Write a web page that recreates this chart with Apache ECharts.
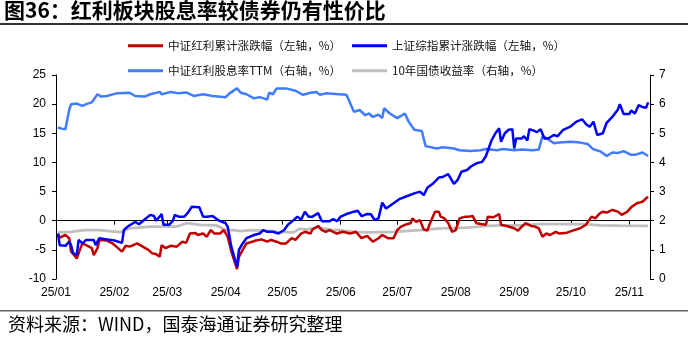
<!DOCTYPE html>
<html><head><meta charset="utf-8">
<script src="https://cdn.jsdelivr.net/npm/echarts@6/dist/echarts.min.js"></script>
<style>html,body{margin:0;padding:0;background:#fff}#c{width:688px;height:342px}</style>
</head><body><div id="c"></div>
<script>
const titleText = '图36：红利板块股息率较债券仍有性价比';
const sourceText = '资料来源：WIND，国泰海通证券研究整理';
const seriesNames = ['中证红利累计涨跌幅（左轴，%）','上证综指累计涨跌幅（左轴，%）','中证红利股息率TTM（右轴，%）','10年国债收益率（右轴，%）'];
const monthStarts = ['2025-01-01','2025-02-01','2025-03-01','2025-04-01','2025-05-01','2025-06-01','2025-07-01','2025-08-01','2025-09-01','2025-10-01','2025-11-01'];
const monthLabels = ['25/01','25/02','25/03','25/04','25/05','25/06','25/07','25/08','25/09','25/10','25/11'];
const axisStart = '2025-01-01', axisEnd = '2025-11-12';
const leftTicks = {min:-10, max:25, interval:5};
const rightTicks = {min:0, max:7, interval:1};

// 中证红利累计涨跌幅 (左轴)
const redData = [
['01-02',-2.3],['01-03',-2.9],['01-06',-2.45],['01-08',-3.0],['01-09',-5.3],['01-11',-6.05],['01-12',-6.5],['01-14',-4.7],['01-15',-3.9],['01-17',-4.2],
['01-20',-4.7],['01-21',-5.9],['01-23',-4.7],['01-24',-3.3],['01-28',-3.4],['01-31',-3.9],['02-02',-4.45],['02-05',-5.3],['02-07',-4.3],['02-09',-4.45],
['02-11',-4.2],['02-13',-3.9],['02-16',-4.45],['02-19',-5.0],['02-21',-5.6],['02-23',-5.7],['02-25',-6.2],['02-26',-4.2],['02-28',-4.7],['03-03',-4.3],
['03-06',-4.45],['03-09',-3.6],['03-11',-3.8],['03-13',-2.2],['03-16',-2.1],['03-17',-2.45],['03-20',-2.2],['03-22',-2.75],['03-24',-1.6],['03-26',-2.2],
['03-29',-2.2],['03-31',-1.6],['04-02',-2.75],['04-04',-5.3],['04-07',-8.3],['04-08',-6.2],['04-10',-5.0],['04-12',-3.9],['04-15',-3.6],['04-17',-3.4],
['04-20',-3.2],['04-23',-3.6],['04-25',-3.3],['04-28',-3.6],['04-30',-3.9],['05-03',-3.9],['05-06',-3.0],['05-08',-3.3],['05-11',-2.2],['05-13',-1.9],
['05-16',-2.2],['05-17',-1.5],['05-20',-0.9],['05-22',-1.6],['05-24',-1.9],['05-26',-1.6],['05-30',-2.2],['06-02',-1.9],['06-06',-2.2],['06-09',-1.9],
['06-12',-3.0],['06-15',-2.6],['06-18',-3.6],['06-21',-3.0],['06-23',-2.45],['06-26',-3.0],['06-29',-3.0],['07-01',-1.6],['07-03',-1.0],['07-06',-0.6],
['07-08',-0.45],['07-09',0.4],['07-11',-0.2],['07-13',0.1],['07-15',-1.5],['07-17',-1.7],['07-18',-0.7],['07-21',1.55],['07-23',1.55],['07-24',0.7],
['07-26',0.4],['07-28',-0.4],['07-30',-1.9],['08-01',-1.6],['08-03',0.4],['08-06',0.7],['08-08',0.7],['08-10',0.8],['08-12',-0.45],['08-15',-0.6],
['08-17',-0.7],['08-18',0.7],['08-21',0.6],['08-24',1.15],['08-25',-0.7],['08-28',-0.9],['09-01',-1.3],['09-03',-1.7],['09-05',-1.0],['09-07',-0.4],
['09-10',-0.9],['09-12',-1.0],['09-14',-1.3],['09-16',-2.75],['09-18',-2.2],['09-20',-2.45],['09-23',-1.9],['09-25',-2.2],['09-29',-2.05],['10-02',-1.7],
['10-06',-1.3],['10-09',-0.7],['10-10',-0.6],['10-12',0.7],['10-14',0.4],['10-16',1.15],['10-18',1.55],['10-20',1.4],['10-23',1.85],['10-26',1.55],
['10-28',1.0],['10-31',1.55],['11-02',2.3],['11-05',3.0],['11-08',3.25],['11-10',3.85],['11-11',4.1]
];
// 上证综指累计涨跌幅 (左轴)
const blueData = [
['01-02',-2.2],['01-03',-4.2],['01-06',-4.3],['01-08',-3.6],['01-09',-4.2],['01-10',-5.5],['01-12',-5.9],['01-13',-3.3],['01-15',-3.9],['01-17',-3.3],
['01-21',-3.3],['01-22',-4.2],['01-24',-3.0],['01-28',-3.2],['02-01',-3.4],['02-05',-3.8],['02-06',-1.6],['02-08',-1.0],['02-10',-0.6],['02-12',-0.2],
['02-14',-0.6],['02-17',0.2],['02-20',1.0],['02-22',0.8],['02-23',0.0],['02-25',0.7],['02-26',1.15],['02-27',-0.7],['03-02',-0.7],['03-04',0.0],
['03-05',1.0],['03-07',0.7],['03-10',0.7],['03-12',1.4],['03-14',2.4],['03-18',2.3],['03-20',0.7],['03-22',0.7],['03-25',0.8],['03-28',0.1],
['03-30',-0.2],['04-01',-0.45],['04-02',-1.0],['04-04',-4.5],['04-07',-7.9],['04-08',-5.0],['04-10',-3.9],['04-12',-3.0],['04-16',-2.45],['04-19',-2.2],
['04-21',-1.6],['04-23',-1.9],['04-26',-1.9],['04-29',-2.2],['05-02',-1.6],['05-04',-0.7],['05-07',0.1],['05-09',0.7],['05-11',0.2],['05-13',1.55],
['05-15',0.7],['05-17',0.7],['05-20',1.3],['05-22',-0.1],['05-26',-0.1],['05-28',0.3],['05-30',-0.1],['06-01',0.7],['06-04',1.15],['06-08',1.55],
['06-10',1.7],['06-12',0.8],['06-15',1.15],['06-17',1.1],['06-19',0.1],['06-21',0.4],['06-23',3.1],['06-25',2.1],['06-29',3.0],['07-02',3.7],
['07-06',4.2],['07-10',4.7],['07-13',5.0],['07-15',4.4],['07-17',5.7],['07-20',6.4],['07-23',7.4],['07-25',7.5],['07-28',8.0],['07-31',6.3],
['08-02',7.0],['08-04',8.4],['08-07',8.7],['08-09',9.3],['08-12',9.85],['08-15',10.1],['08-17',11.1],['08-20',13.8],['08-22',15.0],['08-24',15.85],
['08-25',13.55],['08-27',15.0],['08-29',15.6],['08-31',15.7],['09-01',12.4],['09-02',14.1],['09-05',14.1],['09-06',14.5],['09-08',13.8],['09-09',15.7],
['09-11',15.5],['09-13',15.2],['09-15',15.7],['09-17',14.1],['09-19',14.1],['09-22',14.7],['09-24',14.5],['09-27',15.6],['10-01',16.2],['10-04',17.0],
['10-07',17.4],['10-09',16.6],['10-11',16.1],['10-13',17.0],['10-15',14.7],['10-18',15.0],['10-20',16.8],['10-23',17.8],['10-26',19.1],['10-27',20.0],
['10-29',18.3],['11-01',18.3],['11-02',18.9],['11-04',18.4],['11-06',19.85],['11-08',19.5],['11-10',19.4],['11-11',20.3]
];
// 中证红利股息率TTM (右轴)
const yieldData = [
['01-02',5.2],['01-04',5.16],['01-06',5.14],['01-08',5.8],['01-09',6.0],['01-12',6.02],['01-15',5.94],['01-17',6.0],['01-20',6.06],['01-23',6.34],
['01-25',6.26],['01-28',6.28],['02-02',6.37],['02-09',6.39],['02-12',6.28],['02-17',6.26],['02-20',6.34],['02-25',6.42],['02-26',6.34],['03-03',6.42],
['03-07',6.37],['03-11',6.40],['03-15',6.28],['03-20',6.34],['03-25',6.28],['04-01',6.24],['04-03',6.37],['04-07',6.54],['04-09',6.39],['04-12',6.34],
['04-16',6.20],['04-19',6.24],['04-23',6.16],['04-24',6.39],['04-26',6.34],['04-28',6.54],['05-03',6.54],['05-08',6.46],['05-12',6.32],['05-16',6.39],
['05-19',6.42],['05-21',6.32],['05-24',6.37],['05-31',6.34],['06-04',6.32],['06-08',5.74],['06-11',5.8],['06-14',5.62],['06-16',5.68],['06-18',5.56],
['06-21',5.64],['06-23',5.52],['06-24',5.86],['06-27',5.68],['07-01',5.52],['07-05',5.68],['07-07',5.4],['07-10',5.12],['07-14',5.08],['07-16',4.56],
['07-22',4.48],['07-25',4.52],['07-31',4.48],['08-03',4.42],['08-09',4.39],['08-14',4.42],['08-17',4.46],['08-23',4.42],['08-26',4.46],['09-01',4.42],
['09-05',4.44],['09-11',4.42],['09-14',4.44],['09-16',4.9],['09-19',4.8],['09-22',4.66],['09-25',4.68],['10-01',4.71],['10-06',4.68],['10-10',4.63],
['10-13',4.45],['10-17',4.37],['10-20',4.22],['10-23',4.34],['10-26',4.32],['10-29',4.39],['11-02',4.26],['11-04',4.26],['11-08',4.34],['11-11',4.22]
];
// 10年国债收益率 (右轴)
const bondData = [
['01-02',1.60],['01-09',1.62],['01-16',1.68],['01-24',1.68],['02-02',1.62],['02-05',1.62],['02-09',1.74],['02-20',1.80],['02-24',1.80],['02-27',1.80],
['03-06',1.80],['03-11',1.91],['03-13',1.91],['03-18',1.86],['03-27',1.84],['04-01',1.68],['04-05',1.68],['04-09',1.64],['04-14',1.68],['04-26',1.64],
['04-28',1.62],['05-07',1.60],['05-10',1.72],['05-14',1.70],['05-19',1.76],['05-23',1.74],['05-28',1.68],['05-31',1.68],['06-08',1.62],['06-16',1.60],
['06-29',1.62],['07-13',1.68],['07-24',1.74],['08-07',1.76],['08-18',1.82],['08-26',1.84],['09-05',1.84],['09-16',1.89],['09-20',1.88],['10-08',1.88],
['10-17',1.84],['10-26',1.83],['11-11',1.82]
];

const ts = s => { const p = s.split('-').map(Number); return new Date(p[0], p[1]-1, p[2]).getTime(); };
const toSeries = arr => arr.map(d => [ts('2025-' + d[0]), d[1]]);
const monthTs = monthStarts.map(ts);
const fmt = v => { let best = 0, bd = Infinity; monthTs.forEach((m, i) => { const d = Math.abs(m - v); if (d < bd) { bd = d; best = i; } }); return bd < 86400000 ? monthLabels[best] : ''; };

const colors = ['#C00000', '#0000FF', '#3F7CFF', '#BFBFBF'];
const axisFont = {fontFamily: '"Liberation Sans", Arial, sans-serif', fontSize: 12, color: '#000'};
const legendFont = {fontFamily: '"Noto Sans CJK SC", sans-serif', fontSize: 11.6, color: '#111'};

function legendAt(i, left, top) {
  return {show: true, data: [seriesNames[i]], left: left, top: top, padding: 0, icon: 'rect',
    itemWidth: 35, itemHeight: 3, itemGap: 0, textStyle: legendFont, selectedMode: false};
}

const chart = echarts.init(document.getElementById('c'), null, {renderer: 'canvas'});
chart.setOption({
  animation: false,
  backgroundColor: '#fff',
  title: {text: titleText, left: 4, top: 0, padding: 0,
    textStyle: {fontFamily: '"Noto Sans CJK SC", sans-serif', fontSize: 21, fontWeight: 'bold', color: '#000'}},
  legend: [legendAt(0, 128, 40), legendAt(1, 352, 40), legendAt(2, 128, 65), legendAt(3, 352, 65)],
  grid: {left: 56, right: 38, top: 75, bottom: 63, containLabel: false},
  xAxis: [
    {type: 'value', min: ts(axisStart), max: ts(axisEnd), position: 'bottom',
      axisLine: {show: false, onZero: false}, axisTick: {show: false}, splitLine: {show: false},
      axisLabel: Object.assign({customValues: monthTs, formatter: fmt, margin: 8, hideOverlap: false, showMinLabel: true}, axisFont)},
    {type: 'value', min: ts(axisStart), max: ts(axisEnd), position: 'bottom',
      axisLine: {show: true, onZero: true, onZeroAxisIndex: 0, lineStyle: {color: '#000', width: 1}},
      axisTick: {show: true, customValues: monthTs.slice(1), length: 4, lineStyle: {color: '#000'}},
      axisLabel: {show: false}, splitLine: {show: false}}
  ],
  yAxis: [
    {type: 'value', position: 'left', min: leftTicks.min, max: leftTicks.max, interval: leftTicks.interval,
      axisLine: {show: true, onZero: false, lineStyle: {color: '#000', width: 1}},
      axisTick: {show: true, length: 4, lineStyle: {color: '#000'}},
      axisLabel: Object.assign({margin: 10}, axisFont), splitLine: {show: false}},
    {type: 'value', position: 'right', min: rightTicks.min, max: rightTicks.max, interval: rightTicks.interval,
      axisLine: {show: true, onZero: false, lineStyle: {color: '#000', width: 1}},
      axisTick: {show: true, length: 4, lineStyle: {color: '#000'}},
      axisLabel: Object.assign({margin: 9}, axisFont), splitLine: {show: false}}
  ],
  series: [
    {name: seriesNames[3], type: 'line', xAxisIndex: 0, yAxisIndex: 1, data: toSeries(bondData), showSymbol: false,
      lineStyle: {color: colors[3], width: 2.8}, itemStyle: {color: colors[3]}, z: 2},
    {name: seriesNames[2], type: 'line', xAxisIndex: 0, yAxisIndex: 1, data: toSeries(yieldData), showSymbol: false,
      lineStyle: {color: colors[2], width: 2.5}, itemStyle: {color: colors[2]}, z: 3},
    {name: seriesNames[0], type: 'line', xAxisIndex: 0, yAxisIndex: 0, data: toSeries(redData), showSymbol: false,
      lineStyle: {color: colors[0], width: 2.5}, itemStyle: {color: colors[0]}, z: 4},
    {name: seriesNames[1], type: 'line', xAxisIndex: 0, yAxisIndex: 0, data: toSeries(blueData), showSymbol: false,
      lineStyle: {color: colors[1], width: 2.5}, itemStyle: {color: colors[1]}, z: 5}
  ],
  graphic: [
    {type: 'rect', shape: {x: 0, y: 23, width: 688, height: 2}, style: {fill: '#333'}, silent: true},
    {type: 'rect', shape: {x: 0, y: 310, width: 688, height: 1.5}, style: {fill: '#666'}, silent: true},
    {type: 'text', left: 8, top: 315, silent: true,
      style: {text: sourceText, font: '18px "Noto Sans CJK SC", sans-serif', fill: '#000'}}
  ]
});
</script></body></html>
